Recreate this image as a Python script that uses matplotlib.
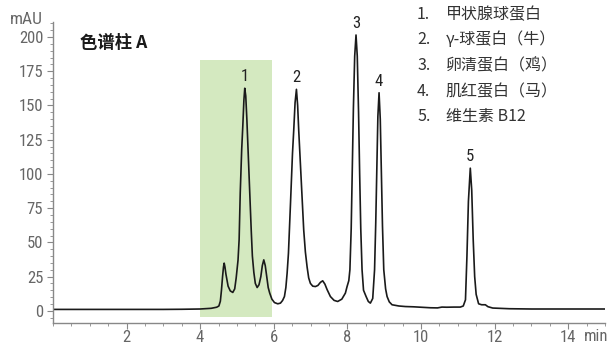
import matplotlib
matplotlib.use("Agg")
import matplotlib.pyplot as plt
from matplotlib import font_manager
from matplotlib.ticker import MultipleLocator, FixedLocator, FixedFormatter
from matplotlib.patches import Rectangle

# pick a condensed face for the numbers if one is installed
installed = {f.name for f in font_manager.fontManager.ttflist}
narrow = [n for n in ['Roboto Condensed', 'Liberation Sans Narrow', 'DejaVu Sans Condensed',
                      'Open Sans Condensed', 'Noto Sans Condensed'] if n in installed]
cond_stretch = any(f.name == 'DejaVu Sans' and f.stretch == 'condensed'
                   for f in font_manager.fontManager.ttflist)
num_family = narrow[:1] + ['DejaVu Sans']
num_stretch = 'normal' if narrow else ('condensed' if cond_stretch else 'normal')
cjk = ['Noto Sans CJK SC', 'DejaVu Sans']
plt.rcParams['font.family'] = num_family
plt.rcParams['font.stretch'] = num_stretch

# chromatogram trace (time in min, absorbance in mAU)
time_min = [0.0, 1.0, 2.0, 3.0, 3.5, 4.0, 4.3, 4.45, 4.51, 4.55, 4.58, 4.61, 4.635, 4.654,
            4.675, 4.70, 4.72, 4.76, 4.82, 4.888, 4.94, 4.98, 5.03, 5.06, 5.09, 5.13, 5.16,
            5.19, 5.213, 5.24, 5.27, 5.31, 5.35, 5.39, 5.42, 5.46, 5.50, 5.55, 5.60, 5.65,
            5.69, 5.73, 5.77, 5.81, 5.85, 5.89, 5.95, 6.02, 6.11, 6.183, 6.24, 6.291, 6.33,
            6.364, 6.40, 6.427, 6.455, 6.481, 6.51, 6.544, 6.58, 6.617, 6.65, 6.679, 6.71,
            6.745, 6.78, 6.815, 6.86, 6.907, 6.95, 6.997, 7.06, 7.133, 7.20, 7.27, 7.331,
            7.39, 7.45, 7.54, 7.64, 7.738, 7.85, 7.947, 7.993, 8.04, 8.07, 8.105, 8.135,
            8.165, 8.20, 8.236, 8.27, 8.305, 8.335, 8.365, 8.40, 8.44, 8.51, 8.57, 8.626, 8.69,
            8.74, 8.772, 8.80, 8.83, 8.862, 8.895, 8.925, 8.955, 8.99, 9.04, 9.08, 9.14,
            9.215, 9.4, 9.577, 9.8, 10.0, 10.26, 10.45, 10.57, 10.7, 10.9, 11.07, 11.15,
            11.21, 11.25, 11.29, 11.341, 11.38, 11.42, 11.46, 11.50, 11.567, 11.65, 11.75,
            11.82, 11.95, 12.4, 13.0, 14.0, 15.0]
signal_mau = [1.0, 1.0, 1.0, 1.0, 1.1, 1.3, 1.8, 2.6, 3.5, 7, 15, 25, 32, 34.8,
              32, 27, 24, 18, 14.5, 13.4, 16, 24, 37, 52, 86, 118, 135,
              154, 162.6, 157, 140, 112, 86, 58, 40, 28, 20, 17, 19, 25,
              33, 37.2, 33, 25, 17, 13, 8.5, 6, 5.1, 5.6, 7.5, 10.4, 17,
              27.5, 42, 59, 78, 95.6, 115, 132, 152, 161.8, 150, 132, 115,
              95.6, 77, 59, 43, 32, 24, 20, 18, 17.7, 18.5, 20.8, 21.9,
              19.5, 15.5, 10.4, 7.6, 6.8, 8.5, 12.9, 17.7, 22, 30, 60, 103,
              148, 186, 201.5, 186, 145, 100, 60, 30, 15, 10.4, 6.8, 5.6, 9,
              30, 64, 103, 142, 159.3, 140, 100, 62, 30, 16, 10.4, 6.5,
              4.4, 3.5, 3.1, 2.9, 2.6, 2.2, 2.1, 2.7, 2.6, 2.7, 2.7, 3.5,
              8, 40, 80, 104.2, 88, 52, 25, 12, 5.1, 4.4, 4.4,
              3, 2, 1.5, 1.3, 1.3, 1.3]

peak_labels = ['1', '2', '3', '4', '5']
peak_times = [5.213, 6.617, 8.236, 8.862, 11.341]
peak_heights = [162.6, 161.8, 201.5, 159.3, 104.2]

legend_names = ['甲状腺球蛋白', 'γ-球蛋白（牛）', '卵清蛋白（鸡）', '肌红蛋白（马）', '维生素 B12']

window_start, window_end = 4.0, 5.94
window_top = 183

fig = plt.figure(figsize=(6.08, 3.49), dpi=100)
ax = fig.add_axes([0.087, 0.075, 0.908, 0.862])

ax.add_patch(Rectangle((window_start, -4.9), window_end - window_start, window_top + 4.9,
                       facecolor='#d4e9c0', edgecolor='none', zorder=0))
ax.plot(time_min, signal_mau, color='#1a1a1a', lw=1.2, zorder=2)

for lab, t, h in zip(peak_labels, peak_times, peak_heights):
    ax.text(t, h + 3, lab, ha='center', va='bottom', fontsize=12, color='#222222',
            clip_on=False)

ax.set_xlim(0, 15.0)
ax.set_ylim(-8.8, 211)

for side in ['top', 'right']:
    ax.spines[side].set_visible(False)
for side in ['left', 'bottom']:
    ax.spines[side].set_color('#888888')
    ax.spines[side].set_linewidth(1.0)

xt = [2, 4, 6, 8, 10, 12, 14]
ax.xaxis.set_major_locator(FixedLocator(xt))
ax.xaxis.set_major_formatter(FixedFormatter([str(v) for v in xt]))
ax.xaxis.set_minor_locator(MultipleLocator(0.5))
ax.yaxis.set_major_locator(MultipleLocator(25))
ax.yaxis.set_minor_locator(MultipleLocator(5))
ax.tick_params(which='major', length=4, color='#888888', labelcolor='#666666', labelsize=12)
ax.tick_params(which='minor', length=2, color='#888888')
ax.tick_params(axis='x', pad=1)
ax.tick_params(axis='y', pad=3)

ax.text(14.42, -0.02, 'min', transform=ax.get_xaxis_transform(), ha='left', va='top',
        fontsize=12, color='#666666')
fig.text(0.016, 0.943, 'mAU', ha='left', va='center', fontsize=12.5, color='#666666')

ax.text(0.75, 196, '色谱柱 A', ha='left', va='center', fontsize=12.5, fontweight='bold',
        color='#1a1a1a', family=cjk, stretch='normal')

for i, name in enumerate(legend_names):
    y = 0.959 - i * 0.0735
    fig.text(0.686, y, f'{i + 1}.', ha='left', va='center', fontsize=11.5, color='#333333',
             family=cjk, stretch='normal')
    fig.text(0.733, y, name, ha='left', va='center', fontsize=11.5, color='#333333',
             family=cjk, stretch='normal')

fig.savefig('out.png', dpi=100)
